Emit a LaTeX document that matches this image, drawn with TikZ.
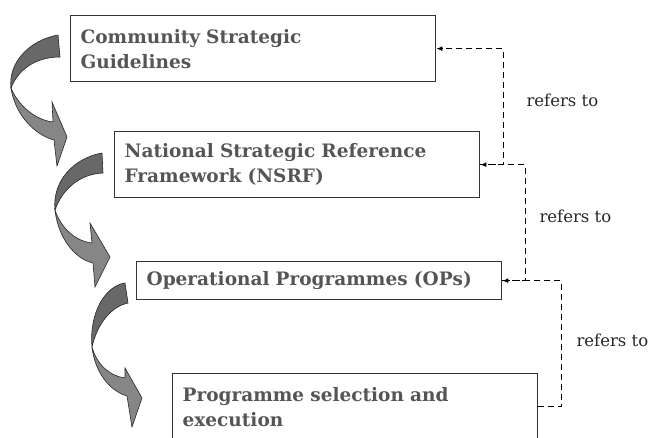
\documentclass[tikz,border=0pt]{standalone}
\usepackage{fontspec}
\setmainfont{DejaVu Serif}
\usetikzlibrary{arrows.meta}

\definecolor{boxtext}{HTML}{555555}
\definecolor{bandtop}{HTML}{686868}
\definecolor{bandlow}{HTML}{868686}

\begin{document}
\begin{tikzpicture}[x=1pt,y=-1pt,
	level/.style={draw=black!80, line width=1.3pt, anchor=north west,
		text width=345pt, inner xsep=10pt, align=left, text=boxtext,
		font=\fontsize{18.5}{25}\selectfont\bfseries, minimum height=66pt},
	refer/.style={dash pattern=on 6pt off 4pt, line width=1.6pt,
		-{Latex[length=6pt,width=5pt]}},
	note/.style={anchor=west, font=\fontsize{16.5}{18}\selectfont, text=black!85},
	darkface/.style={fill=bandtop, draw=black!85, line width=0.6pt},
	lightface/.style={fill=bandlow, draw=black!85, line width=0.6pt}]

			\useasboundingbox (0,0) rectangle (650,437);
			\clip (0,0) rectangle (650,437);

			% boxes
			\node[level] (csg) at (70,15) {Community Strategic\\Guidelines};
			\node[level] (nsrf) at (114,131) {National Strategic Reference\\Framework (NSRF)};
			\node[level, minimum height=38pt] (ops) at (136,261) {Operational Programmes (OPs)};
			\node[level] (pse) at (172,373) {Programme selection and\\execution};

			% refers to
			\draw[refer] (nsrf.east) -- ++(23,0) |- (csg.east);
\draw[refer] (ops.east) -- ++(23,0) |- (nsrf.east);
\draw[refer] (pse.east) -- ++(23,0) |- (ops.east);
			\node[note] (r1) at (523,100) {refers to};
\node[note] (r2) at (536,216) {refers to};
\node[note] (r3) at (573,340) {refers to};

			% curved arrows
			\begin{scope}[shift={(58,35)}]
				\filldraw[darkface] (0,0) .. controls (-28,5) and (-50,27) .. (-47,53) .. controls (-40,35) and (-23,22) .. (2,22) -- cycle;
				\filldraw[lightface] (-47,53) .. controls (-43,80) and (-23,100) .. (-4,105) -- (-1,131) -- (9,102) -- (-6,67) -- (-5,87) .. controls (-23,85) and (-40,70) .. (-47,53) -- cycle;
			\end{scope}
			\begin{scope}[shift={(102,153)}]
				\filldraw[darkface] (0,0) .. controls (-28,5) and (-50,28) .. (-47,57) .. controls (-40,37) and (-23,21) .. (1,20) -- cycle;
				\filldraw[lightface] (-47,57) .. controls (-44,85) and (-27,106) .. (-9,110) -- (-7,134) -- (8,104) -- (-12,70) -- (-10,90) .. controls (-27,88) and (-41,75) .. (-47,57) -- cycle;
			\end{scope}
			\begin{scope}[shift={(125,283)}]
				\filldraw[darkface] (0,0) .. controls (-20,3) and (-36,30) .. (-33,64) .. controls (-28,42) and (-15,24) .. (3,20) -- cycle;
				\filldraw[lightface] (-33,64) .. controls (-30,90) and (-15,108) .. (2,113) -- (7,144) -- (17,115) -- (0,85) -- (0,95) .. controls (-15,93) and (-28,82) .. (-33,64) -- cycle;
			\end{scope}

		\end{tikzpicture}
\end{document}
